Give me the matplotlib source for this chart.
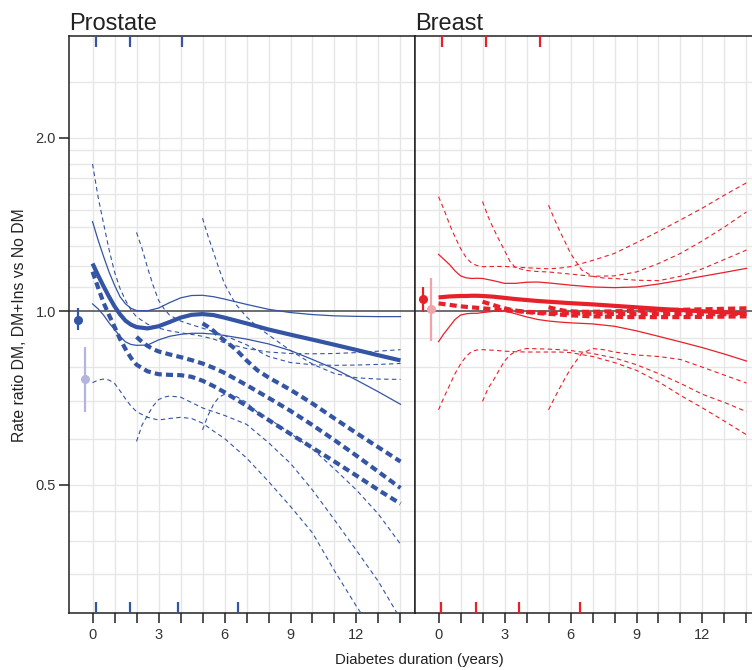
import matplotlib
matplotlib.use('Agg')
import matplotlib.pyplot as plt
from matplotlib.ticker import FixedLocator, NullLocator, FixedFormatter

plt.rcParams['font.family'] = ['Liberation Sans', 'DejaVu Sans']

# x grids (diabetes duration, years) for curves starting at 0, 2 and 5 years
X0 = [0, 0.25, 0.5, 0.75, 1, 1.25, 1.5, 1.75, 2, 2.5, 3, 3.5, 4, 4.5, 5, 5.5, 6, 7, 8, 9, 10, 11, 12, 13, 14]
X2 = [2, 2.25, 2.5, 2.75, 3, 3.25, 3.5, 4, 4.5, 5, 5.5, 6, 7, 8, 9, 10, 11, 12, 13, 14]
X5 = [5, 5.25, 5.5, 5.75, 6, 6.5, 7, 7.5, 8, 9, 10, 11, 12, 13, 14]

# ---- Prostate ----
pro_dm = [1.21, 1.155, 1.105, 1.06, 1.02, 0.988, 0.963, 0.948, 0.939, 0.934, 0.942, 0.958, 0.975,
          0.986, 0.989, 0.985, 0.975, 0.953, 0.93, 0.911, 0.893, 0.875, 0.857, 0.839, 0.822]
pro_dm_hi = [1.43, 1.33, 1.245, 1.17, 1.11, 1.06, 1.03, 1.012, 1.003, 1.002, 1.013, 1.035, 1.055,
             1.065, 1.066, 1.06, 1.05, 1.028, 1.008, 0.995, 0.987, 0.982, 0.98, 0.979, 0.979]
pro_dm_lo = [1.03, 1.01, 0.985, 0.955, 0.93, 0.905, 0.885, 0.876, 0.873, 0.874, 0.892, 0.905, 0.912,
             0.916, 0.916, 0.913, 0.908, 0.895, 0.878, 0.855, 0.825, 0.795, 0.76, 0.725, 0.69]

pro_a = [1.171, 1.10, 1.035, 0.985, 0.94, 0.895, 0.86, 0.83, 0.808, 0.787, 0.778, 0.776, 0.775,
         0.77, 0.758, 0.742, 0.724, 0.686, 0.648, 0.613, 0.58, 0.549, 0.519, 0.49, 0.464]
pro_a_hi = [1.80, 1.58, 1.42, 1.28, 1.17, 1.095, 1.045, 1.005, 0.978, 0.95, 0.935, 0.925, 0.918,
            0.912, 0.905, 0.895, 0.882, 0.862, 0.85, 0.845, 0.844, 0.845, 0.848, 0.853, 0.858]
pro_a_lo = [0.752, 0.76, 0.763, 0.76, 0.75, 0.728, 0.705, 0.685, 0.67, 0.655, 0.648, 0.652, 0.655,
            0.652, 0.64, 0.62, 0.602, 0.557, 0.507, 0.459, 0.413, 0.355, 0.308, 0.27, 0.24]

pro_b = [0.903, 0.885, 0.871, 0.86, 0.852, 0.847, 0.842, 0.833, 0.823, 0.812, 0.798, 0.782, 0.745,
         0.708, 0.672, 0.635, 0.598, 0.562, 0.527, 0.494]
pro_b_hi = [1.37, 1.285, 1.19, 1.11, 1.045, 1.01, 0.985, 0.962, 0.948, 0.935, 0.922, 0.908, 0.875,
            0.835, 0.815, 0.808, 0.806, 0.807, 0.809, 0.812]
pro_b_lo = [0.595, 0.635, 0.66, 0.685, 0.703, 0.71, 0.713, 0.71, 0.695, 0.68, 0.67, 0.66, 0.637,
            0.592, 0.545, 0.49, 0.435, 0.385, 0.34, 0.293]

pro_c = [0.953, 0.94, 0.925, 0.905, 0.89, 0.86, 0.822, 0.79, 0.768, 0.731, 0.692, 0.652, 0.615, 0.581, 0.549]
pro_c_hi = [1.45, 1.35, 1.265, 1.185, 1.115, 1.03, 0.978, 0.94, 0.91, 0.855, 0.81, 0.78, 0.767, 0.763, 0.762]
pro_c_lo = [0.623, 0.66, 0.69, 0.71, 0.718, 0.713, 0.695, 0.668, 0.652, 0.614, 0.577, 0.533, 0.49, 0.445, 0.395]

pro_pts_x = [-0.66, -0.34]
pro_pts_y = [0.967, 0.762]
pro_pts_lo = [0.927, 0.67]
pro_pts_hi = [1.012, 0.867]
pro_rug_top = [0.15, 1.7, 4.05]
pro_rug_bot = [0.15, 1.72, 3.87, 6.6]

# ---- Breast ----
br_dm = [1.057, 1.059, 1.061, 1.062, 1.063, 1.063, 1.064, 1.064, 1.063, 1.06, 1.055, 1.05, 1.046,
         1.042, 1.039, 1.036, 1.033, 1.028, 1.022, 1.016, 1.01, 1.005, 1.0, 0.996, 0.992]
br_dm_hi = [1.255, 1.23, 1.205, 1.175, 1.152, 1.143, 1.14, 1.141, 1.14, 1.13, 1.118, 1.118, 1.123,
            1.124, 1.12, 1.115, 1.11, 1.102, 1.099, 1.102, 1.115, 1.132, 1.15, 1.168, 1.187]
br_dm_lo = [0.886, 0.915, 0.941, 0.968, 0.985, 0.99, 0.992, 0.992, 0.995, 1.0, 1.002, 0.99, 0.978,
            0.968, 0.962, 0.958, 0.955, 0.951, 0.942, 0.925, 0.905, 0.885, 0.865, 0.843, 0.82]

br_a = [1.032, 1.029, 1.026, 1.023, 1.02, 1.018, 1.016, 1.014, 1.012, 1.008, 1.004, 1.001, 0.998,
        0.996, 0.994, 0.993, 0.992, 0.99, 0.989, 0.989, 0.989, 0.989, 0.989, 0.989, 0.989]
br_a_hi = [1.58, 1.50, 1.415, 1.345, 1.285, 1.24, 1.212, 1.20, 1.195, 1.196, 1.196, 1.193, 1.19,
           1.187, 1.185, 1.188, 1.195, 1.225, 1.26, 1.315, 1.375, 1.44, 1.51, 1.59, 1.67]
br_a_lo = [0.675, 0.71, 0.744, 0.78, 0.81, 0.835, 0.852, 0.857, 0.858, 0.856, 0.853, 0.851, 0.85,
           0.85, 0.85, 0.85, 0.848, 0.835, 0.815, 0.79, 0.755, 0.715, 0.68, 0.645, 0.611]

br_b = [1.039, 1.032, 1.025, 1.018, 1.012, 1.007, 1.003, 0.997, 0.993, 0.99, 0.987, 0.984, 0.98,
        0.978, 0.977, 0.977, 0.977, 0.978, 0.979, 0.98]
br_b_hi = [1.55, 1.46, 1.39, 1.33, 1.275, 1.22, 1.19, 1.177, 1.172, 1.17, 1.165, 1.16, 1.15,
           1.152, 1.17, 1.21, 1.26, 1.325, 1.40, 1.487]
br_b_lo = [0.698, 0.735, 0.76, 0.79, 0.82, 0.84, 0.852, 0.862, 0.861, 0.86, 0.858, 0.855, 0.845,
           0.83, 0.808, 0.78, 0.75, 0.718, 0.695, 0.67]

br_c = [1.016, 1.011, 1.006, 1.002, 1.0, 0.998, 0.998, 0.999, 1.0, 1.002, 1.004, 1.006, 1.008, 1.01, 1.012]
br_c_hi = [1.527, 1.45, 1.38, 1.32, 1.26, 1.18, 1.15, 1.142, 1.14, 1.132, 1.13, 1.15, 1.185, 1.23, 1.277]
br_c_lo = [0.675, 0.705, 0.735, 0.765, 0.795, 0.845, 0.862, 0.858, 0.85, 0.84, 0.835, 0.825, 0.80, 0.775, 0.751]

br_pts_x = [-0.7, -0.35]
br_pts_y = [1.05, 1.008]
br_pts_lo = [0.999, 0.89]
br_pts_hi = [1.103, 1.143]
br_rug_top = [0.17, 2.17, 4.62]
br_rug_bot = [0.11, 1.7, 3.64, 6.43]

hgrid = [0.35, 0.4, 0.45, 0.5, 0.6, 0.7, 0.8, 0.9, 1.1, 1.2, 1.3, 1.4, 1.5, 1.6, 1.7, 1.8, 1.9, 2.0, 2.5]

W, H = 752, 670
fig = plt.figure(figsize=(W / 100, H / 100), dpi=100)
ax1 = fig.add_axes([69 / W, 57 / H, 346 / W, 577 / H])
ax2 = fig.add_axes([415 / W, 57 / H, 346 / W, 577 / H])

THICK_DASH = (1.7, 1.0)
THIN_DASH = (4, 3)


def draw_panel(ax, col, col2, est, hi, lo, curves, pts, rug_top, rug_bot, title):
    ax.set_yscale('log')
    ax.set_xlim(-1.07, 14.66)
    ax.set_ylim(0.3, 3.0)
    for g in hgrid:
        ax.axhline(g, color='#e6e6e6', lw=1.0, zorder=0)
    for v in range(15):
        ax.axvline(v, color='#e6e6e6', lw=1.0, zorder=0)
    ax.axhline(1.0, color='#555555', lw=1.2, zorder=1)

    ax.plot(X0, est, color=col, lw=3.0, solid_capstyle='butt', zorder=4)
    ax.plot(X0, hi, color=col, lw=0.9, zorder=3)
    ax.plot(X0, lo, color=col, lw=0.9, zorder=3)
    for xs, e, h, l in curves:
        ax.plot(xs, e, color=col, lw=3.0, dashes=THICK_DASH, zorder=4)
        ax.plot(xs, h, color=col, lw=0.8, dashes=THIN_DASH, zorder=3)
        ax.plot(xs, l, color=col, lw=0.8, dashes=THIN_DASH, zorder=3)

    px, py, plo, phi = pts
    for i, c in enumerate([col, col2]):
        ax.vlines(px[i], plo[i], phi[i], color=c, lw=1.6, zorder=5)
        ax.plot(px[i], py[i], 'o', color=c, ms=5.5, zorder=6)

    tr = ax.get_xaxis_transform()
    ax.vlines(rug_top, 1 - 11 / 577, 1, color=col, lw=1.6, transform=tr, zorder=5)
    ax.vlines(rug_bot, 0, 11 / 577, color=col, lw=1.6, transform=tr, zorder=5)

    ax.set_xticks(range(15))
    ax.set_xticklabels([str(v) if v % 3 == 0 else '' for v in range(15)])
    ax.tick_params(axis='x', length=7.5, width=1.1, color='#222222', pad=3.5,
                   labelsize=10.5, labelcolor='#333333')
    for s in ax.spines.values():
        s.set_color('#222222')
        s.set_linewidth(1.1)
    ax.text(0, 1 + 6 / 577, title, transform=ax.transAxes, ha='left', va='baseline',
            fontsize=17, color='#222222')


draw_panel(ax1, '#3454a4', '#b4b4e0', pro_dm, pro_dm_hi, pro_dm_lo,
           [(X0, pro_a, pro_a_hi, pro_a_lo), (X2, pro_b, pro_b_hi, pro_b_lo),
            (X5, pro_c, pro_c_hi, pro_c_lo)],
           (pro_pts_x, pro_pts_y, pro_pts_lo, pro_pts_hi), pro_rug_top, pro_rug_bot, 'Prostate')
draw_panel(ax2, '#e8202a', '#f4a3aa', br_dm, br_dm_hi, br_dm_lo,
           [(X0, br_a, br_a_hi, br_a_lo), (X2, br_b, br_b_hi, br_b_lo),
            (X5, br_c, br_c_hi, br_c_lo)],
           (br_pts_x, br_pts_y, br_pts_lo, br_pts_hi), br_rug_top, br_rug_bot, 'Breast')

ax1.yaxis.set_major_locator(FixedLocator([0.5, 1.0, 2.0]))
ax1.yaxis.set_major_formatter(FixedFormatter(['0.5', '1.0', '2.0']))
ax1.yaxis.set_minor_locator(NullLocator())
ax1.tick_params(axis='y', length=7.5, width=1.1, color='#222222', pad=2,
                labelsize=10.5, labelcolor='#333333')
ax2.yaxis.set_minor_locator(NullLocator())
ax2.tick_params(axis='y', left=False, labelleft=False)

fig.text(20 / W, 1 - 325 / H, 'Rate ratio DM, DM+Ins vs No DM', rotation=90,
         ha='center', va='center', fontsize=11.3, color='#222222')
fig.text(419 / W, 1 - 660 / H, 'Diabetes duration (years)', ha='center', va='center',
         fontsize=10.8, color='#222222')

fig.savefig('out.png', dpi=100)
